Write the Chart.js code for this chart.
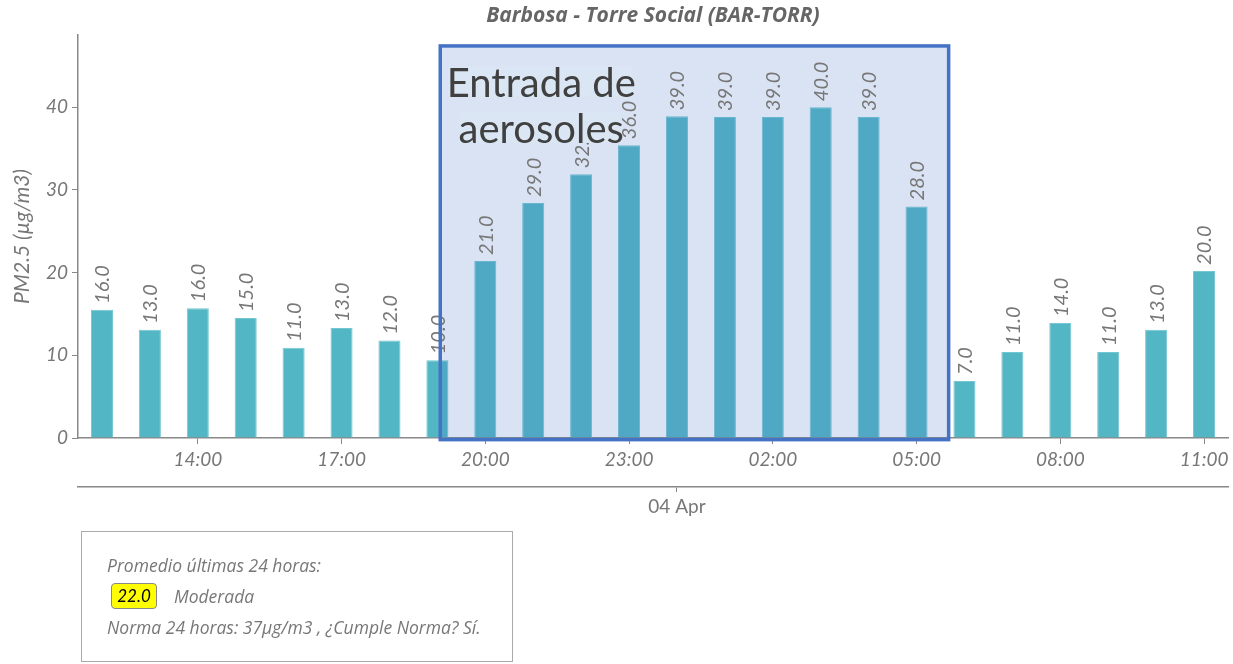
<!DOCTYPE html>
<html>
<head>
<meta charset="utf-8">
<script src="https://cdn.jsdelivr.net/npm/chart.js@4/dist/chart.umd.min.js"></script>
<style>
  html, body { margin: 0; padding: 0; background: #fff; }
  #wrap { position: relative; width: 1233px; height: 664px; }
  #info {
    position: absolute; left: 81px; top: 531px; width: 430px; height: 129px;
    border: 1px solid #aaa; font: italic 17.5px "Open Sans", sans-serif; color: #777;
    line-height: 22px;
  }
  #info span { position: absolute; white-space: nowrap; }
  #info .l1 { left: 25px; top: 22px; }
  #info .badge {
    left: 29px; top: 51px; width: 44px; height: 24px;
    background: #ffff00; border: 1px solid #888; border-radius: 4px;
    color: #000; font: italic 17px Lato, sans-serif; line-height: 24px; text-align: center;
  }
  #info .l2 { left: 92px; top: 53px; }
  #info .l3 { left: 25px; top: 84px; }
</style>
</head>
<body>
<div id="wrap">
  <canvas id="c" width="1233" height="664"></canvas>
  <div id="info">
    <span class="l1">Promedio últimas 24 horas:</span>
    <span class="badge">22.0</span>
    <span class="l2">Moderada</span>
    <span class="l3">Norma 24 horas: 37µg/m3 , ¿Cumple Norma? Sí.</span>
  </div>
</div>
<script>
'use strict';

// hourly categories, 03 Apr 12:00 -> 04 Apr 11:00
const hours = [
  '12:00', '13:00', '14:00', '15:00', '16:00', '17:00', '18:00', '19:00',
  '20:00', '21:00', '22:00', '23:00', '00:00', '01:00', '02:00', '03:00',
  '04:00', '05:00', '06:00', '07:00', '08:00', '09:00', '10:00', '11:00'
];

// bar heights
const pm25 = [
  15.5, 13.1, 15.7, 14.5, 10.9, 13.3, 11.8, 9.4,
  21.4, 28.4, 31.9, 35.4, 38.9, 38.8, 38.8, 40.0,
  38.8, 28.0, 6.9, 10.4, 13.9, 10.4, 13.1, 20.2
];

// values printed above the bars
const pm25Labels = [
  '16.0', '13.0', '16.0', '15.0', '11.0', '13.0', '12.0', '10.0',
  '21.0', '29.0', '32.0', '36.0', '39.0', '39.0', '39.0', '40.0',
  '39.0', '28.0', '7.0', '11.0', '14.0', '11.0', '13.0', '20.0'
];

const yTicks = [0, 10, 20, 30, 40];
const dayIndex = 12;
const dayLabel = '04 Apr';

// highlighted window, in category index / y units
const highlight = { from: 7.06, to: 17.67, top: 47.4, bottom: -0.2 };
const highlightText = ['Entrada de', 'aerosoles'];

const GRAY = '#777';
const AXIS = '#888';

/* Draws the value labels, the highlight box and its caption */
const overlayPlugin = {
  id: 'overlay',
  afterDatasetsDraw(chart) {
    const ctx = chart.ctx;
    const xs = chart.scales.x;
    const ys = chart.scales.y;
    const left = xs.getPixelForValue(highlight.from);
    const right = xs.getPixelForValue(highlight.to);
    const top = ys.getPixelForValue(highlight.top);
    const bottom = ys.getPixelForValue(highlight.bottom);

    ctx.save();
    ctx.fillStyle = 'rgba(68,114,196,0.2)';
    ctx.fillRect(left, top, right - left, bottom - top);

    // rotated value labels
    ctx.font = 'italic 20px Lato, sans-serif';
    ctx.fillStyle = GRAY;
    ctx.textAlign = 'left';
    ctx.textBaseline = 'middle';
    const meta = chart.getDatasetMeta(0);
    for(let i = 0, j = meta.data.length; i < j; i++) {
      const bar = meta.data[i];
      ctx.save();
      ctx.translate(bar.x + 1, bar.y - 6);
      ctx.rotate(-Math.PI / 2);
      ctx.fillText(pm25Labels[i], 0, 0);
      ctx.restore();
    }

    // caption, each line on its own background
    ctx.font = '40px Lato, sans-serif';
    ctx.textAlign = 'center';
    ctx.textBaseline = 'alphabetic';
    const cx = left + 101;
    for(let i = 0; i < highlightText.length; i++) {
      const by = top + 51 + i * 46;
      const w = ctx.measureText(highlightText[i]).width;
      ctx.fillStyle = '#dae6f3';
      ctx.fillRect(cx - w / 2 + 1, by - 30, w - 4, 30);
      ctx.fillStyle = '#404040';
      ctx.fillText(highlightText[i], cx, by);
    }

    ctx.strokeStyle = '#4472c4';
    ctx.lineWidth = 3.5;
    ctx.strokeRect(left, top, right - left, bottom - top);
    ctx.restore();
  }
};

new Chart(document.getElementById('c'), {
  type: 'bar',
  data: {
    labels: hours,
    datasets: [{
      data: pm25,
      backgroundColor: '#52b6c5',
      borderColor: '#74c6d2',
      borderWidth: 1,
      barPercentage: 0.46,
      categoryPercentage: 1
    }]
  },
  options: {
    responsive: false,
    animation: false,
    layout: { padding: { left: 0, right: 5, bottom: 147 } },
    plugins: {
      legend: { display: false },
      tooltip: { enabled: false },
      title: {
        display: true,
        fullSize: false,
        text: 'Barbosa - Torre Social (BAR-TORR)',
        color: '#666',
        font: { family: '"Open Sans", sans-serif', size: 21, style: 'italic', weight: 'bold' },
        padding: { top: 3, bottom: 7 }
      }
    },
    scales: {
      x: {
        position: 'bottom',
        grid: {
          offset: false,
          drawOnChartArea: false,
          tickLength: 6,
          color: (c) => (c.index % 3 === 2 ? AXIS : 'rgba(0,0,0,0)')
        },
        border: { color: AXIS, width: 1.5 },
        ticks: {
          autoSkip: false,
          maxRotation: 0,
          padding: 4,
          color: GRAY,
          font: { family: 'Lato, sans-serif', size: 19, style: 'italic' },
          callback: (v, i) => (i % 3 === 2 ? hours[i] : '')
        },
        afterFit(axis) { axis.height = 49; }
      },
      x2: {
        type: 'category',
        labels: hours,
        position: 'bottom',
        offset: true,
        grid: {
          offset: false,
          drawOnChartArea: false,
          tickLength: 5,
          color: (c) => (c.index === dayIndex ? AXIS : 'rgba(0,0,0,0)')
        },
        border: { color: AXIS, width: 1.5 },
        ticks: {
          autoSkip: false,
          maxRotation: 0,
          padding: 3,
          color: GRAY,
          font: { family: 'Lato, sans-serif', size: 19 },
          callback: (v, i) => (i === dayIndex ? dayLabel : '')
        },
        afterFit(axis) { axis.height = 30; }
      },
      y: {
        min: 0,
        max: 48.7,
        grid: { drawOnChartArea: false, tickLength: 6, color: AXIS },
        border: { color: AXIS, width: 1.5 },
        ticks: {
          color: GRAY,
          padding: 4,
          font: { family: 'Lato, sans-serif', size: 19, style: 'italic' }
        },
        afterBuildTicks(axis) {
          axis.ticks = yTicks.map((v) => ({ value: v }));
        },
        title: {
          display: true,
          text: 'PM2.5 (µg/m3)',
          color: GRAY,
          padding: { top: 10, bottom: 0 },
          font: { family: 'Lato, sans-serif', size: 21, style: 'italic' }
        },
        afterFit(axis) { axis.width = 78; }
      }
    }
  },
  plugins: [overlayPlugin]
});
</script>
</body>
</html>
